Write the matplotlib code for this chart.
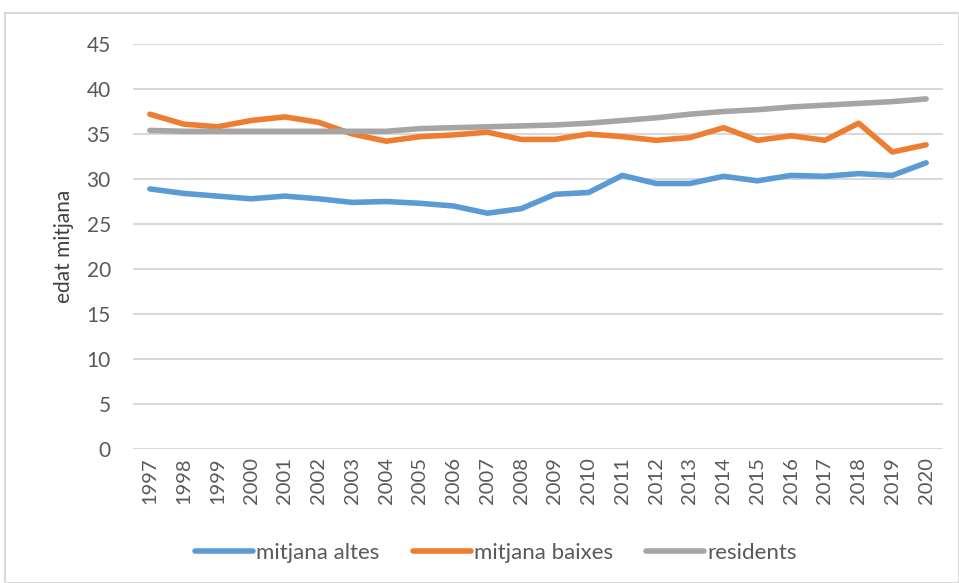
import numpy as np
import matplotlib
matplotlib.use('Agg')
import matplotlib.pyplot as plt
from matplotlib.patches import Rectangle

plt.rcParams['font.family'] = ['Lato', 'DejaVu Sans']

# Data
years = [str(y) for y in range(1997, 2021)]
altes = [28.9, 28.4, 28.1, 27.8, 28.1, 27.8, 27.4, 27.5, 27.3, 27.0, 26.2, 26.7,
         28.3, 28.5, 30.4, 29.5, 29.5, 30.3, 29.8, 30.4, 30.3, 30.6, 30.4, 31.8]
baixes = [37.2, 36.1, 35.8, 36.5, 36.9, 36.3, 35.0, 34.2, 34.7, 34.9, 35.2, 34.4,
          34.4, 35.0, 34.7, 34.3, 34.6, 35.7, 34.3, 34.8, 34.3, 36.2, 33.0, 33.8]
residents = [35.4, 35.3, 35.3, 35.3, 35.3, 35.3, 35.3, 35.3, 35.6, 35.7, 35.8, 35.9,
             36.0, 36.2, 36.5, 36.8, 37.2, 37.5, 37.7, 38.0, 38.2, 38.4, 38.6, 38.9]
yticks = [0, 5, 10, 15, 20, 25, 30, 35, 40, 45]

W, H = 959, 583
fig = plt.figure(figsize=(W / 100, H / 100), dpi=100)
ax = fig.add_axes([133 / W, 1 - 449 / H, (943 - 133) / W, (449 - 44) / H])

x = np.arange(len(years))
ax.plot(x, altes, color='#5B9BD5', lw=4, label='mitjana altes', solid_capstyle='round')
ax.plot(x, baixes, color='#ED7D31', lw=4, label='mitjana baixes', solid_capstyle='round')
ax.plot(x, residents, color='#A5A5A5', lw=4, label='residents', solid_capstyle='round')

ax.set_xlim(-0.5, len(years) - 0.5)
ax.set_ylim(0, 45)
ax.set_yticks(yticks)
ax.set_xticks(x)
ax.set_xticklabels(years, rotation=90, fontsize=14.5, color='#595959')
ax.tick_params(axis='y', labelsize=15, colors='#595959', length=0, pad=16)
ax.tick_params(axis='x', length=0, pad=6)
ax.grid(axis='y', color='#D9D9D9', lw=1.5)
ax.set_axisbelow(True)
for s in ax.spines.values():
    s.set_visible(False)
ax.set_ylabel('edat mitjana', fontsize=15, color='#404040', labelpad=9)

fig.legend(loc='center', bbox_to_anchor=(496 / W, 1 - 553 / H), ncol=3, frameon=False,
           fontsize=16, handlelength=2.6, handletextpad=0.15, columnspacing=1.5,
           labelcolor='#595959')

fig.patches.append(Rectangle((5 / W, 0), 1 - 5 / W, 1 - 13 / H, transform=fig.transFigure,
                             fill=False, edgecolor='#D9D9D9', lw=1.5))

fig.savefig('out.png', dpi=100)
